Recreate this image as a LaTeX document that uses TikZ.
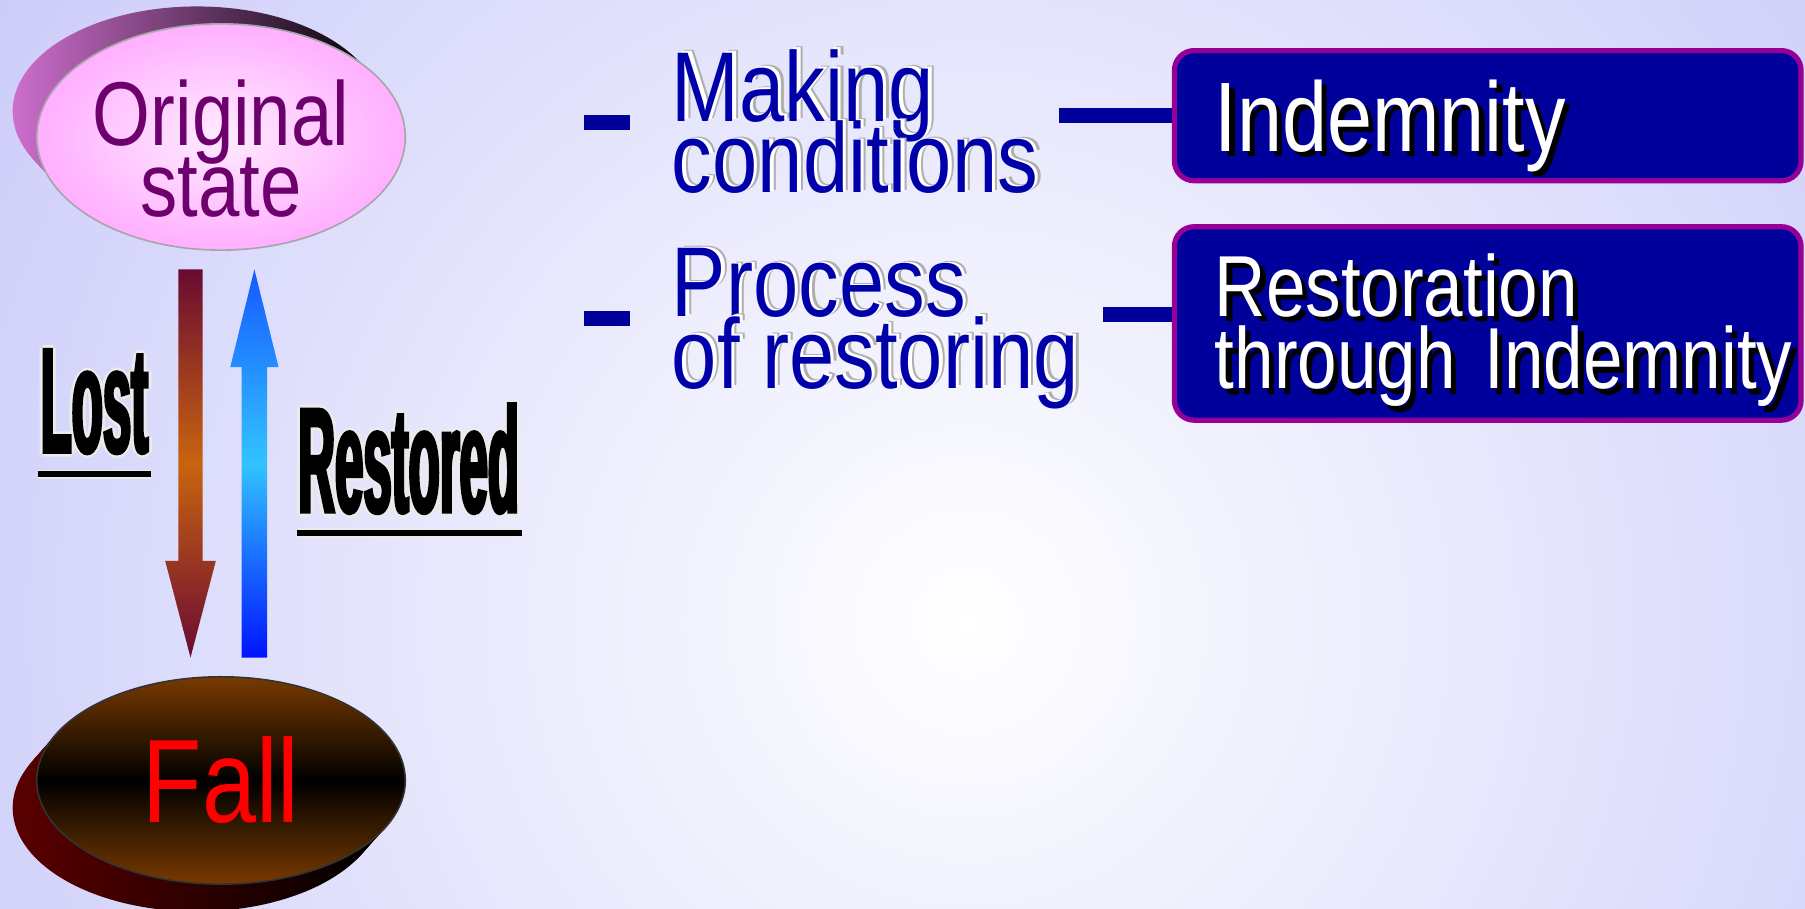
\documentclass[tikz,border=0pt]{standalone}
\usepackage{fontspec}
\setmainfont{Liberation Sans}
\newfontfamily\thinfont[FakeStretch=0.82]{Liberation Sans}
\newfontfamily\squeezefont[FakeStretch=0.34,FakeBold=2]{Liberation Sans}
\usetikzlibrary{positioning,calc,shapes.geometric}
\pgfdeclarelayer{backdrop}
\pgfdeclarelayer{bg}
\pgfsetlayers{backdrop,bg,main}
\lineskiplimit=-100pt

\definecolor{bglav}{RGB}{204,204,250}
\definecolor{rimpink}{RGB}{205,110,205}
\definecolor{rimred}{RGB}{90,0,0}
\definecolor{pinkin}{RGB}{255,235,255}
\definecolor{pinkout}{RGB}{255,175,255}
\definecolor{origtext}{RGB}{110,0,110}
\definecolor{fallbrown}{RGB}{120,58,0}
\definecolor{maroon}{RGB}{105,10,50}
\definecolor{rust}{RGB}{200,100,15}
\definecolor{arrowblue}{RGB}{20,90,255}
\definecolor{deepblue}{RGB}{0,20,255}
\definecolor{skyblue}{RGB}{50,195,255}
\definecolor{navybox}{RGB}{0,0,155}
\definecolor{boxrim}{RGB}{150,0,150}
\definecolor{linkblue}{RGB}{0,0,170}
\definecolor{halogray}{RGB}{235,235,235}
\definecolor{embossgray}{RGB}{175,175,175}

\newcommand{\halotext}[1]{\leavevmode
  \rlap{\color{halogray}\kern-0.7pt#1}%
  \rlap{\color{halogray}\kern0.7pt#1}%
  \rlap{\color{halogray}\raisebox{0.7pt}{#1}}%
  \rlap{\color{halogray}\raisebox{-0.7pt}{#1}}%
  #1}
\newcommand{\embossed}[1]{\leavevmode
  \rlap{\color{embossgray}\kern1.4pt\raisebox{0.6pt}{#1}}%
  \rlap{\color{white}\kern0.8pt\raisebox{0.4pt}{#1}}%
  \mbox{#1}}
\newcommand{\dropshadow}[1]{\leavevmode\rlap{\color{black}\kern1.3pt\raisebox{-1.3pt}{#1}}\mbox{#1}}

\begin{document}
\begin{tikzpicture}[x=0.01cm, y=-0.01cm,
    disc/.style={ellipse, minimum width=3.2cm, minimum height=1.82cm, inner sep=0pt, align=center},
    topic/.style={anchor=north west, inner sep=0pt, align=left, text=linkblue,
      font=\thinfont\fontsize{24.5}{17.7}\selectfont},
    topicbox/.style={anchor=west, draw=boxrim, line width=0.045cm, fill=navybox,
      rounded corners=0.17cm, text=white, align=left, inner xsep=0.35cm, text width=4.74cm},
    linkbar/.style={draw=navybox, line width=0.13cm},
    tag/.style={inner sep=0pt, anchor=base, font=\squeezefont\bfseries\fontsize{37}{40}\selectfont},
    underbar/.style={draw=black, line width=0.05cm, preaction={draw=halogray, line width=0.08cm}}
  ]

  % backdrop
  \begin{pgfonlayer}{backdrop}
    \fill[bglav] (0,0) rectangle (1568,789);
    \begin{scope}
      \clip (0,0) rectangle (1568,789);
      \shade[inner color=white, outer color=bglav] (840,540) circle [radius=1000];
    \end{scope}
  \end{pgfonlayer}
  \useasboundingbox (0,0) rectangle (1568,789);

  % the two discs
  \node[disc, inner color=pinkin, outer color=pinkout, draw=gray!70, text=origtext,
    font=\thinfont\fontsize{22.4}{17.4}\selectfont] (orig) at (192,119) {\rule{0pt}{0.77cm}Original\\state};
  \node[disc, minimum height=1.8cm, top color=fallbrown, bottom color=fallbrown, middle color=black,
    draw=black!80, text=red, font=\thinfont\fontsize{29.3}{30}\selectfont] (fall) at (192,678) {Fall};

  \begin{pgfonlayer}{bg}
    \foreach \s in {1,...,14}
      \shade[left color=rimpink, right color=black] ($(orig)+(-1.5*\s,-1.6*\s)$) ellipse [x radius=160, y radius=91];
    \foreach \s in {1,...,14}
      \shade[left color=rimred, right color=black] ($(fall)+(-1.5*\s,1.7*\s)$) ellipse [x radius=160, y radius=90];
  \end{pgfonlayer}

  % lost / restored arrows
  \coordinate (lostA) at ($(orig.south)+(-26.5,16)$);
  \coordinate (lostB) at ($(fall.north)+(-26.5,-16)$);
  \shade[top color=maroon, bottom color=maroon, middle color=rust]
    ($(lostA)+(-10.5,0)$) -- ($(lostA)+(10.5,0)$) -- ($(lostB)+(10.5,-84)$) -- ($(lostB)+(22,-84)$)
    -- (lostB) -- ($(lostB)+(-22,-84)$) -- ($(lostB)+(-10.5,-84)$) -- cycle;
  \coordinate (restA) at ($(fall.north)+(29,-16)$);
  \coordinate (restB) at ($(orig.south)+(29,16)$);
  \shade[top color=arrowblue, bottom color=deepblue, middle color=skyblue]
    ($(restA)+(-11,0)$) -- ($(restA)+(11,0)$) -- ($(restB)+(11,85)$) -- ($(restB)+(21,85)$)
    -- (restB) -- ($(restB)+(-21,85)$) -- ($(restB)+(-11,85)$) -- cycle;

  \node[tag] (lost) at (82,393) {\halotext{Lost}};
  \node[tag] (restored) at (355,445) {\halotext{Restored}};
  \draw[underbar] ([xshift=-0.02cm,yshift=-0.19cm]lost.base west) -- ([xshift=0.02cm,yshift=-0.19cm]lost.base east);
  \draw[underbar] ([yshift=-0.18cm]restored.base west) -- ([xshift=0.02cm,yshift=-0.18cm]restored.base east);

  % topics
  \node[topic] (making) at (583,40) {\embossed{Making}\\\embossed{conditions}};
  \node[topic] (process) at (583,213) {\embossed{Process}\\\embossed{of restoring}};
  \fill[navybox] ($(making.north west)+(-76,60)$) rectangle ($(making.north west)+(-36,73)$);
  \fill[navybox] ($(process.north west)+(-76,57)$) rectangle ($(process.north west)+(-36,70)$);

  \node[topicbox, minimum height=1.13cm, text depth=0pt, font=\thinfont\fontsize{24.4}{18}\selectfont] (indem) at (1018,100.5) {\dropshadow{Indemnity}};
  \node[topicbox, minimum height=1.68cm, inner ysep=0pt, font=\thinfont\fontsize{21.4}{17.9}\selectfont] (restind) at (1018,281) {\rule{0pt}{0.71cm}\dropshadow{Restoration}\\\dropshadow{through Indemnity}};

  \draw[linkbar] ($(making.east |- indem.west)+(17,0)$) -- (indem.west);
  \coordinate (p2) at ($(process.east |- restind.west)+(20,-8)$);
  \draw[linkbar] (p2) -- (p2 -| restind.west);
\end{tikzpicture}
\end{document}
